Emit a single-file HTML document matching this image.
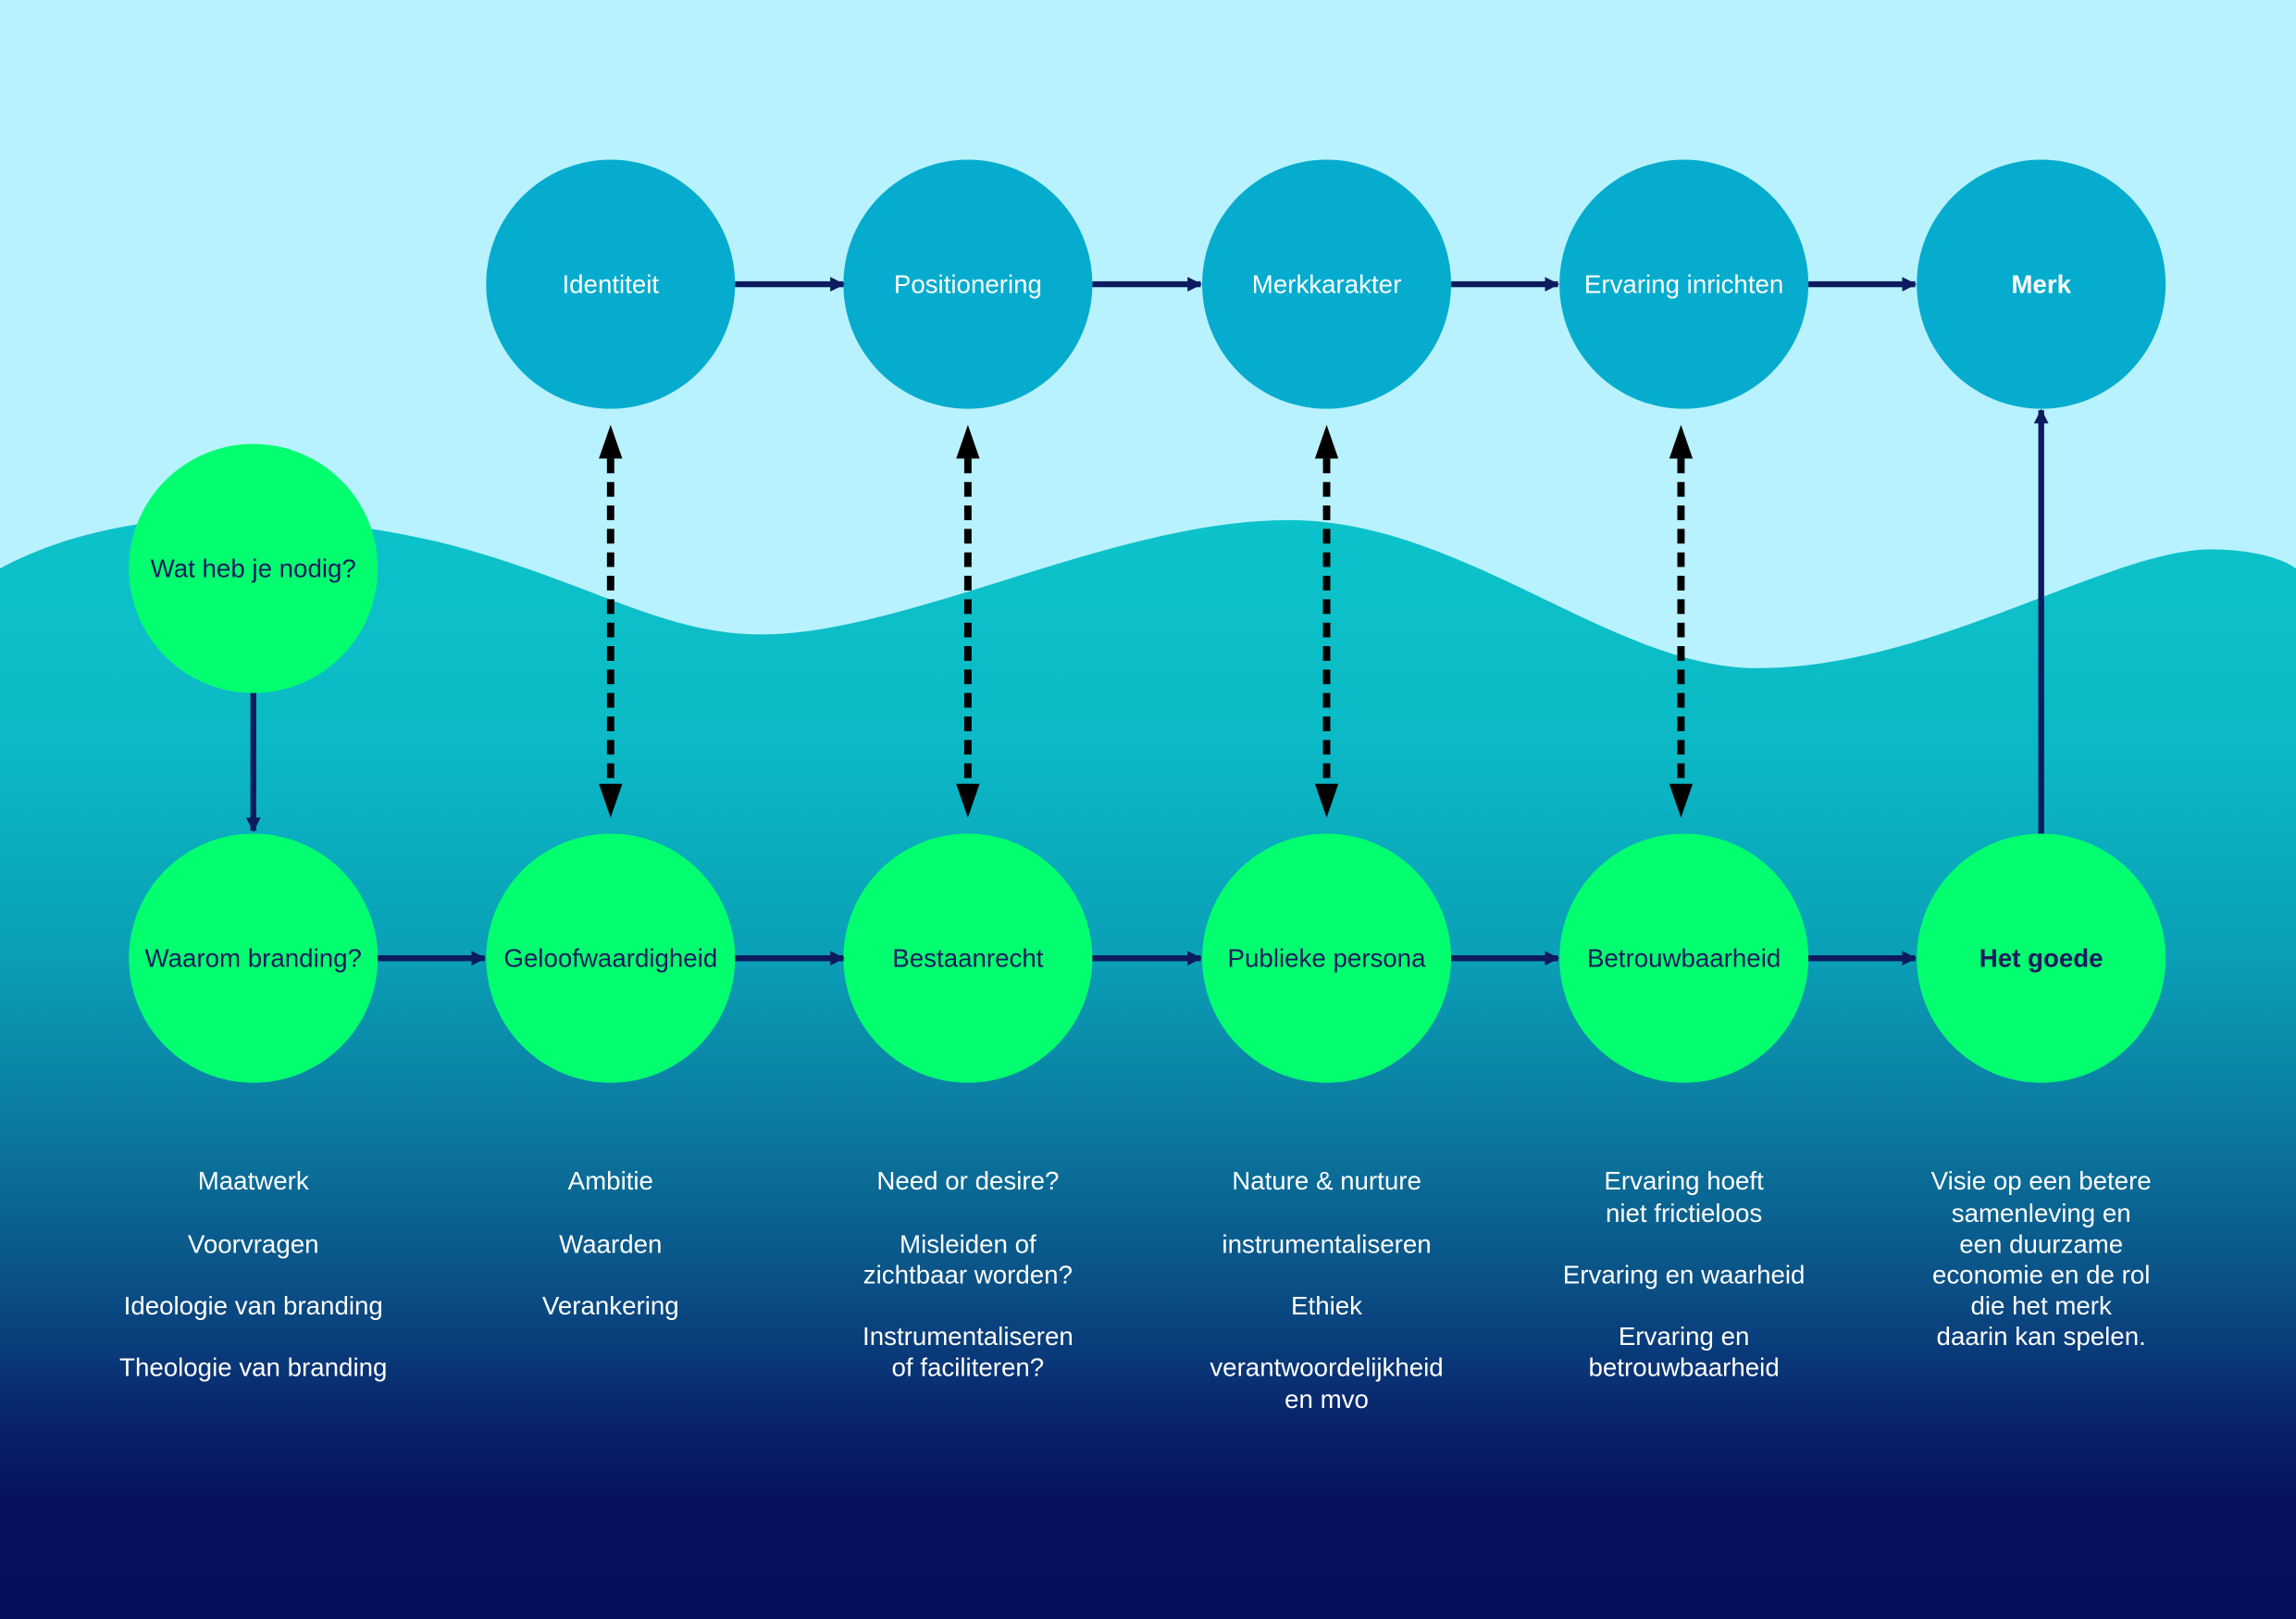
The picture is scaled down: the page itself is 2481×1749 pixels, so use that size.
<!DOCTYPE html>
<html><head><meta charset="utf-8"><style>
html,body{margin:0;padding:0;background:#b8f2fe}
svg{display:block}
text{font-family:"Liberation Sans",Arial,sans-serif}
</style></head><body>
<svg width="2481" height="1749" viewBox="0 0 1568 1105" preserveAspectRatio="none" xmlns="http://www.w3.org/2000/svg">
<defs>
<linearGradient id="g" x1="0" y1="0" x2="0" y2="1" gradientUnits="objectBoundingBox">
<stop offset="0" stop-color="#0cc3ca"/>
<stop offset="0.2" stop-color="#0bbac6"/>
<stop offset="0.4" stop-color="#0a9fb6"/>
<stop offset="0.55" stop-color="#0b7aa0"/>
<stop offset="0.7" stop-color="#0a4f85"/>
<stop offset="0.83" stop-color="#08206a"/>
<stop offset="0.9" stop-color="#07105d"/>
<stop offset="1" stop-color="#070f5c"/>
</linearGradient>
<marker id="a" markerWidth="10" markerHeight="10" refX="9" refY="5" orient="auto" markerUnits="userSpaceOnUse" viewBox="0 0 10 10">
<path d="M0,0 L10,5 L0,10 Z" fill="#0d1a5e"/></marker>
</defs>
<rect width="1568" height="1105" fill="#b8f2fe"/>
<path d="M0,388 C80,345 190,345 300,370 C400,395 450,433 520,433 C620,433 760,355 880,355 C1000,355 1100,456 1200,456 C1320,456 1440,375 1510,375 C1540,375 1560,382 1568,388 L1568,1105 L0,1105 Z" fill="url(#g)"/>

<g fill="#06acce">
<circle cx="417" cy="194" r="85"/><circle cx="661" cy="194" r="85"/><circle cx="906" cy="194" r="85"/><circle cx="1150" cy="194" r="85"/><circle cx="1394" cy="194" r="85"/>
</g>
<g fill="#03ff70">
<circle cx="173" cy="388" r="85"/>
<circle cx="173" cy="654" r="85"/><circle cx="417" cy="654" r="85"/><circle cx="661" cy="654" r="85"/><circle cx="906" cy="654" r="85"/><circle cx="1150" cy="654" r="85"/><circle cx="1394" cy="654" r="85"/>
</g>

<g stroke="#0d1a5e" stroke-width="4" marker-end="url(#a)">
<line x1="502" y1="194" x2="576" y2="194"/><line x1="746" y1="194" x2="820" y2="194"/><line x1="991" y1="194" x2="1064" y2="194"/><line x1="1235" y1="194" x2="1308" y2="194"/>
<line x1="258" y1="654" x2="331" y2="654"/><line x1="502" y1="654" x2="576" y2="654"/><line x1="746" y1="654" x2="820" y2="654"/><line x1="991" y1="654" x2="1064" y2="654"/><line x1="1235" y1="654" x2="1308" y2="654"/>
<line x1="173" y1="473" x2="173" y2="567"/>
<line x1="1394" y1="569" x2="1394" y2="280"/>
</g>

<g>
<g stroke="#000" stroke-width="5" stroke-dasharray="10 6">
<line x1="417" y1="313" x2="417" y2="537"/><line x1="661" y1="313" x2="661" y2="537"/><line x1="906" y1="313" x2="906" y2="537"/><line x1="1148" y1="313" x2="1148" y2="537"/>
</g>
<g fill="#000">
<path d="M417,290 L425,313 L409,313 Z M417,558 L425,535 L409,535 Z"/>
<path d="M661,290 L669,313 L653,313 Z M661,558 L669,535 L653,535 Z"/>
<path d="M906,290 L914,313 L898,313 Z M906,558 L914,535 L898,535 Z"/>
<path d="M1148,290 L1156,313 L1140,313 Z M1148,558 L1156,535 L1140,535 Z"/>
</g>
</g>

<g font-size="17.5" fill="#fff" text-anchor="middle">
<text x="417" y="200">Identiteit</text><text x="661" y="200">Positionering</text><text x="906" y="200">Merkkarakter</text><text x="1150" y="200">Ervaring inrichten</text><text x="1394" y="200" font-weight="bold">Merk</text>
</g>
<g font-size="17.5" fill="#1a1a5e" text-anchor="middle">
<text x="173" y="394">Wat heb je nodig?</text>
<text x="173" y="660">Waarom branding?</text><text x="417" y="660">Geloofwaardigheid</text><text x="661" y="660">Bestaanrecht</text><text x="906" y="660">Publieke persona</text><text x="1150" y="660">Betrouwbaarheid</text><text x="1394" y="660" font-weight="bold">Het goede</text>
</g>

<g font-size="17.5" fill="#fff" text-anchor="middle">
<text x="173" y="812">Maatwerk</text><text x="173" y="855">Voorvragen</text><text x="173" y="897">Ideologie van branding</text><text x="173" y="939">Theologie van branding</text>
<text x="417" y="812">Ambitie</text><text x="417" y="855">Waarden</text><text x="417" y="897">Verankering</text>
<text x="661" y="812">Need or desire?</text><text x="661" y="855">Misleiden of</text><text x="661" y="876">zichtbaar worden?</text><text x="661" y="918">Instrumentaliseren</text><text x="661" y="939">of faciliteren?</text>
<text x="906" y="812">Nature &amp; nurture</text><text x="906" y="855">instrumentaliseren</text><text x="906" y="897">Ethiek</text><text x="906" y="939">verantwoordelijkheid</text><text x="906" y="961">en mvo</text>
<text x="1150" y="812">Ervaring hoeft</text><text x="1150" y="834">niet frictieloos</text><text x="1150" y="876">Ervaring en waarheid</text><text x="1150" y="918">Ervaring en</text><text x="1150" y="939">betrouwbaarheid</text>
<text x="1394" y="812">Visie op een betere</text><text x="1394" y="834">samenleving en</text><text x="1394" y="855">een duurzame</text><text x="1394" y="876">economie en de rol</text><text x="1394" y="897">die het merk</text><text x="1394" y="918">daarin kan spelen.</text>
</g>
</svg>
</body></html>
